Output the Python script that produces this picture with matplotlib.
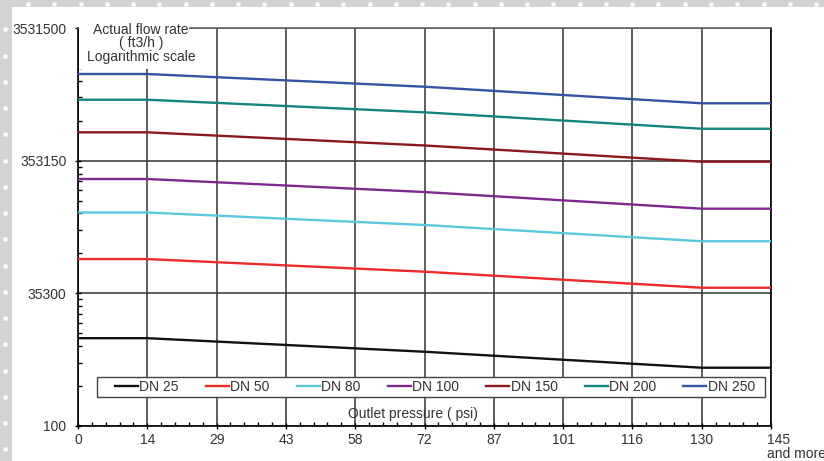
import matplotlib
matplotlib.use('Agg')
import matplotlib.pyplot as plt
import matplotlib.transforms as mtransforms
from matplotlib.ticker import FixedLocator

plt.rcParams['font.family'] = ['Liberation Sans', 'DejaVu Sans']

# x positions in bar (one step = 14.5 psi), labels in psi
pressure_bar = [0, 1, 5, 9, 10]
x_tick_pos = list(range(11))
x_tick_labels = ['0', '14', '29', '43', '58', '72', '87', '101', '116', '130',
                 '145\nand more']

# flow rates (ft3/h)
series = ['DN 25', 'DN 50', 'DN 80', 'DN 100', 'DN 150', 'DN 200', 'DN 250']
dn25 = [16200, 16200, 12800, 9700, 9700]
dn50 = [64000, 64000, 51400, 38900, 38900]
dn80 = [143700, 143700, 115600, 87200, 87200]
dn100 = [257000, 257000, 205000, 153500, 153500]
dn150 = [578000, 578000, 460000, 347000, 347000]
dn200 = [1018000, 1018000, 818000, 615000, 615000]
dn250 = [1591000, 1591000, 1276000, 957000, 957000]
flows = [dn25, dn50, dn80, dn100, dn150, dn200, dn250]
colors = ['#111111', '#ee2b2b', '#5cc8de', '#7d2a90', '#8a1a1a', '#15847f',
          '#3553a3']

y_ticks = [3531.5, 35315, 353150, 3531500]
y_tick_labels = ['100', '35300', '353150', '3531500']

W, H = 824, 461
fig = plt.figure(figsize=(W / 100, H / 100), dpi=100)

# grey dotted border on the left and top
fig.add_artist(plt.Rectangle((0, 0), 12 / W, 1, transform=fig.transFigure,
                             color='#d3d3d3', lw=0))
fig.add_artist(plt.Rectangle((0, 1 - 7 / H), 1, 7 / H, transform=fig.transFigure,
                             color='#d3d3d3', lw=0))
dots_x = [28 + 26.27 * k for k in range(31)]
fig.add_artist(plt.Line2D([x / W for x in dots_x], [1 - 4.5 / H] * len(dots_x),
                          transform=fig.transFigure, ls='none', marker='s',
                          ms=2.2, mfc='white', mec='none'))
dots_y = [29.3 + 26.25 * k for k in range(17)]
fig.add_artist(plt.Line2D([4.5 / W] * len(dots_y), [1 - y / H for y in dots_y],
                          transform=fig.transFigure, ls='none', marker='s',
                          ms=2.2, mfc='white', mec='none'))

ax = fig.add_axes([78 / W, 1 - 425.9 / H, 693 / W, 397.8 / H])

for name, vals, c in zip(series, flows, colors):
    ax.plot(pressure_bar, vals, color=c, lw=1.7, label=name, zorder=3)

ax.set_yscale('log')
ax.set_ylim(3531.5, 3531500)
ax.set_xlim(0, 10)

ax.yaxis.set_major_locator(FixedLocator(y_ticks))
ax.set_yticklabels(y_tick_labels)
minor_y = [k * b for b in y_ticks[:-1] for k in range(2, 10)]
ax.yaxis.set_minor_locator(FixedLocator(minor_y))
ax.yaxis.set_minor_formatter(plt.NullFormatter())

ax.set_xticks(x_tick_pos)
ax.set_xticklabels(x_tick_labels)
ax.xaxis.set_minor_locator(FixedLocator([i / 5 for i in range(51) if i % 5]))

ax.tick_params(which='major', direction='inout', length=4.5, width=1,
               labelsize=10, labelcolor='#333333', pad=6)
ax.tick_params(which='minor', direction='in', length=3, width=1)
ax.tick_params(axis='x', which='major', pad=3)

last = ax.get_xticklabels()[-1]
last.set_ha('left')
last.set_linespacing(1.0)
last.set_transform(last.get_transform() +
                   mtransforms.ScaledTranslation(-4 / 100, 0, fig.dpi_scale_trans))

ax.grid(which='major', color='#333333', lw=1.1)
for s in ['left', 'bottom', 'right']:
    ax.spines[s].set_color('black')
    ax.spines[s].set_linewidth(1.2)
ax.spines['top'].set_color('#666666')
ax.spines['top'].set_linewidth(1.2)

# white patch behind the axis title, hides the grid there
ax.add_patch(plt.Rectangle((0.002, 0.897), 0.158, 0.11, transform=ax.transAxes,
                           fc='white', ec='none', zorder=4, clip_on=False))
ax.text(0.0909, 0.9613, 'Actual flow rate\n( ft3/h )\nLogarithmic scale',
        transform=ax.transAxes, ha='center', va='center', ma='center',
        fontsize=10, color='#333333', linespacing=0.95, zorder=5, clip_on=False)

ax.text(0.483, 0.030, 'Outlet pressure ( psi)', transform=ax.transAxes,
        ha='center', va='center', fontsize=10, color='#333333', zorder=5)

# legend frame drawn by hand so the entries can sit with a wider left margin
ax.add_patch(plt.Rectangle(((97 - 78) / 693, (425.9 - 397) / 397.8),
                           668 / 693, 20 / 397.8, transform=ax.transAxes,
                           fc='white', ec='#444444', lw=1, zorder=5))
leg = ax.legend(loc='center left',
                bbox_to_anchor=((115 - 78) / 693, (425.9 - 387) / 397.8,
                                (755 - 115) / 693, 0),
                mode='expand', ncol=7, fontsize=10, handlelength=1.65,
                handletextpad=0.1, borderaxespad=0, borderpad=0,
                frameon=False)
leg.set_zorder(6)
for t in leg.get_texts():
    t.set_color('#333333')

fig.savefig('out.png', dpi=100)
